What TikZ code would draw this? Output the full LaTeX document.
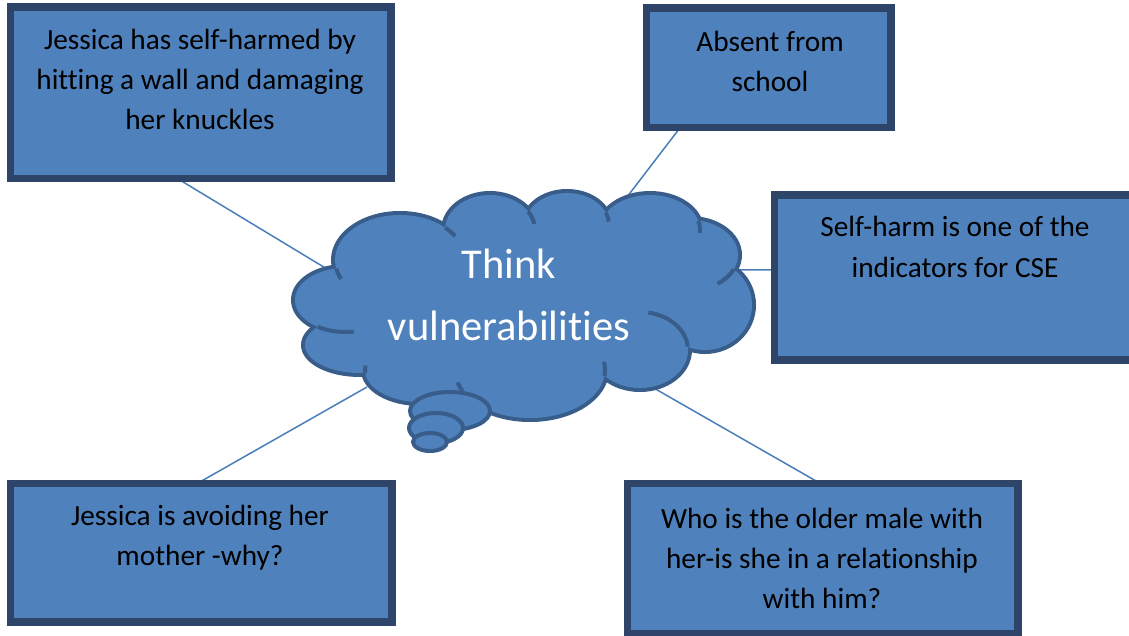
\documentclass[tikz,border=0pt]{standalone}
\usepackage{fontspec}
\setmainfont{Carlito}[Ligatures=NoCommon]
\usetikzlibrary{calc}
\definecolor{boxfill}{HTML}{4F81BD}
\definecolor{boxline}{HTML}{2E4468}
\definecolor{cloudline}{HTML}{385D8A}
\definecolor{conn}{HTML}{4A7EBB}
\begin{document}
\begin{tikzpicture}[x=1pt,y=-1pt,
  infobox/.style={draw=boxline, line width=5pt, fill=boxfill, rectangle, inner sep=0pt},
  boxtext/.style={font=\fontsize{29.3}{40}\selectfont, align=center, text=black, inner sep=0pt, anchor=base},
  cloudtext/.style={font=\fontsize{42.5}{62}\selectfont, align=center, text=white, inner sep=0pt, anchor=base},
  link/.style={draw=conn, line width=1.5pt},
  puffline/.style={draw=cloudline, line width=8pt, fill=boxfill},
  innerline/.style={draw=cloudline, line width=4pt},
  bubble/.style={draw=cloudline, line width=4pt, fill=boxfill}]
\useasboundingbox (0,0) rectangle (1129,636);

% boxes (shapes only)
\node[infobox, minimum width=378pt, minimum height=169pt] (b1) at (200.5,93) {};
\node[infobox, minimum width=242pt, minimum height=117pt] (b2) at (768.5,68) {};
\node[infobox, minimum width=364pt, minimum height=162pt] (b3) at (957.5,277.5) {};
\node[infobox, minimum width=379pt, minimum height=136pt] (b4) at (201,552.5) {};
\node[infobox, minimum width=388pt, minimum height=148pt] (b5) at (822.5,558.5) {};

% cloud attachment points
\coordinate (k1) at (327,269);
\coordinate (k2) at (627,197);
\coordinate (k3) at (738,270);
\coordinate (k4) at (367,387);
\coordinate (k5) at (652,387);

% connectors
\draw[link] ($(b1.south west)!0.446!(b1.south east)$) -- (k1);
\draw[link] ($(b2.south west)!0.138!(b2.south east)$) -- (k2);
\draw[link] ($(b3.north west)!0.454!(b3.south west)$) -- (k3);
\draw[link] ($(b4.north west)!0.497!(b4.north east)$) -- (k4);
\draw[link] ($(b5.north west)!0.488!(b5.north east)$) -- (k5);

% redraw box borders over the connector ends
\foreach \b in {b1,b2,b3,b4,b5}
  \draw[draw=boxline, line width=5pt] (\b.south west) rectangle (\b.north east);

% cloud: puffs stroked, then filled to hide interior strokes
\foreach \cx/\cy/\rx/\ry in {345/300/50/32, 360/345/55/28, 420/370/55/32, 530/370/75/48,
    640/350/48/38, 705/305/47/45, 690/255/48/35, 650/230/50/35, 567/225/42/32,
    490/230/45/35, 400/260/65/45}
  \draw[puffline] (\cx,\cy) ellipse [x radius=\rx, y radius=\ry];
\foreach \cx/\cy/\rx/\ry in {345/300/50/32, 360/345/55/28, 420/370/55/32, 530/370/75/48,
    640/350/48/38, 705/305/47/45, 690/255/48/35, 650/230/50/35, 567/225/42/32,
    490/230/45/35, 400/260/65/45, 520/300/170/70}
  \fill[boxfill] (\cx,\cy) ellipse [x radius=\rx, y radius=\ry];
% inner strokes of the cloud
\foreach \cx/\cy/\rx/\ry/\a/\e in {400/260/65/45/169/155, 400/260/65/45/314/328,
    490/230/45/35/328/350, 567/225/42/32/338/354, 650/230/50/35/345/365,
    690/255/48/35/24/55, 640/350/48/38/355/280, 530/370/75/48/7/-10,
    530/370/75/48/154/165, 420/370/55/32/174/188, 345/300/50/32/123/80}
  \draw[innerline] ({\cx+\rx*cos(\a)},{\cy+\ry*sin(\a)}) arc [start angle=\a, end angle=\e, x radius=\rx, y radius=\ry];
% thought bubbles
\draw[bubble] (450,411) ellipse [x radius=40, y radius=19];
\draw[bubble] (436,428) ellipse [x radius=27, y radius=15];
\draw[bubble] (430,442) ellipse [x radius=17, y radius=9];

% texts (anchor = baseline of the last line)
\node[cloudtext] (ct) at (509,340) {Think\\vulnerabilities};
\node[boxtext] (t1) at (200,130) {Jessica has self-harmed by\\hitting a wall and damaging\\her knuckles};
\node[boxtext] (t2) at (770,92) {Absent from\\school};
\node[boxtext] (t3) at (955,277) {Self-harm is one of the\\indicators for CSE};
\node[boxtext] (t4) at (200,565) {Jessica is avoiding her\\mother -why?};
\node[boxtext] (t5) at (822,608) {Who is the older male with\\her-is she in a relationship\\with him?};
\end{tikzpicture}
\end{document}
